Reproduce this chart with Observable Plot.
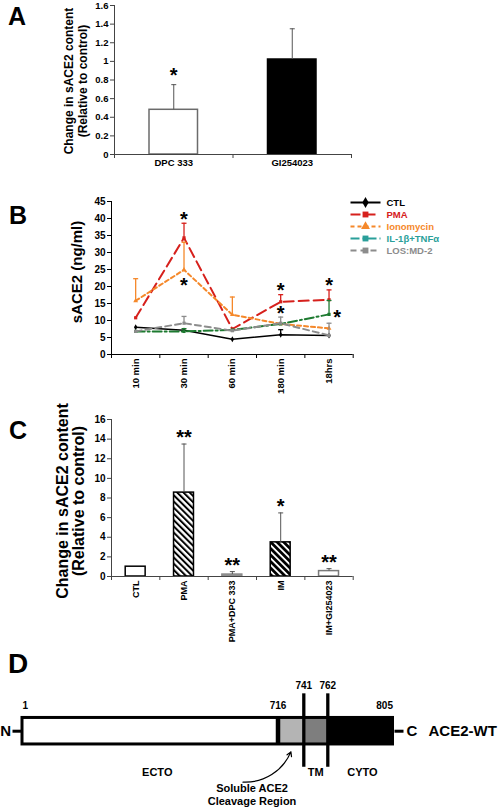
<!DOCTYPE html>
<html>
<head>
<meta charset="utf-8">
<script src="https://cdn.jsdelivr.net/npm/d3@7"></script>
<script src="https://cdn.jsdelivr.net/npm/@observablehq/plot@0.6"></script>
<style>
  html, body { margin: 0; padding: 0; background: #fff; }
  #figure { position: relative; width: 498px; height: 808px; overflow: hidden; font-family: "Liberation Sans", Arial, Helvetica, sans-serif; }
  .panel { position: absolute; }
  .letter { position: absolute; font-weight: bold; line-height: 1; color: #000; }
</style>
</head>
<body>
<div id="figure"></div>
<script>
// ================= DATA =================
// Panel A
const aCategories = ["DPC 333", "GI254023"];
const aValues = [0.48, 1.02];
const aErrors = [0.27, 0.33];
const aSignificance = ["*", ""];
const aTicks = [0, 0.2, 0.4, 0.6, 0.8, 1, 1.2, 1.4, 1.6];
const aYLabel = "Change in sACE2 content\n(Relative to control)";

// Panel B
const bTimes = ["10 min", "30 min", "60 min", "180 min", "18hrs"];
const bSeriesNames = ["CTL", "PMA", "Ionomycin", "IL-1β+TNFα", "LOS:MD-2"];
const ctlValues = [8.0, 7.1, 4.5, 5.8, 5.6];
const ctlErrors = [0, 0, 0, 1.5, 0];
const pmaValues = [10.8, 34.3, 7.5, 15.5, 16.1];
const pmaErrors = [0, 4.3, 0, 2.1, 2.9];
const ionomycinValues = [15.8, 24.9, 11.7, 9.0, 7.7];
const ionomycinErrors = [6.5, 8.1, 5.2, 0, 0];
const ilTnfValues = [6.8, 6.8, 7.2, 9.0, 11.8];
const ilTnfErrors = [0, 0.8, 0, 0, 4.1];
const losValues = [6.8, 9.2, 7.0, 9.2, 5.6];
const losErrors = [0, 2.0, 0, 1.8, 3.6];
const bTicks = [0, 5, 10, 15, 20, 25, 30, 35, 40, 45];
const bYLabel = "sACE2 (ng/ml)";
const bStars = [
  {series: "PMA", time: "30 min", place: "above"},
  {series: "Ionomycin", time: "30 min", place: "below"},
  {series: "PMA", time: "180 min", place: "above"},
  {series: "LOS:MD-2", time: "180 min", place: "above"},
  {series: "PMA", time: "18hrs", place: "above"},
  {series: "IL-1β+TNFα", time: "18hrs", place: "right"}
];

// Panel C
const cCategories = ["CTL", "PMA", "PMA+DPC 333", "IM", "IM+GI254023"];
const cValues = [1.0, 8.55, 0.2, 3.48, 0.55];
const cErrors = [0, 4.95, 0.3, 3.0, 0.25];
const cSignificance = ["", "**", "**", "*", "**"];
const cTicks = [0, 2, 4, 6, 8, 10, 12, 14, 16];
const cYLabel = "Change in sACE2 content\n(Relative to control)";

// Panel D (ACE2 domain schematic)
const dResidues = [1, 716, 741, 762, 805];
const dSegments = [
  {name: "ECTO", start: 1, end: 716},
  {name: "Cleavage", start: 716, end: 741},
  {name: "TM", start: 741, end: 762},
  {name: "CYTO", start: 762, end: 805}
];
const dCleavageLabel = "Soluble ACE2\nCleavage Region";
const dConstructName = "ACE2-WT";

// ================= STYLE =================
const FONT = '"Liberation Sans", Arial, Helvetica, sans-serif';
const baseStyle = (size) => ({fontFamily: FONT, fontWeight: "bold", fontSize: size + "px", color: "#000", background: "transparent", overflow: "visible"});
const axisGray = "#444";
const bLineColors = ["#000000", "#d6201c", "#f5882a", "#1d7a30", "#8c8c8c"];
const bLegendColors = ["#000000", "#d6201c", "#f5882a", "#2a9f9a", "#8c8c8c"];
const bDashes = ["none", "10,5", "4,3", "9,3,2,3", "6,4"];
const bWidths = [1.5, 2, 2, 2, 2];
const bSymbols = ["diamond", "square", "triangle", "square", "square"];
const aFills = ["white", "black"];
const aStrokes = ["#6b6b6b", "black"];
const cFills = ["white", "url(#hatchPMA)", "#9a9a9a", "url(#hatchIM)", "white"];
const cStrokes = ["black", "black", "#8a8a8a", "black", "#7a7a7a"];
const dFills = ["white", "#b4b4b4", "#7e7e7e", "black"];

const capSymbol = {draw(ctx, size) { const r = Math.sqrt(size / Math.PI); ctx.moveTo(-r, 0); ctx.lineTo(r, 0); }};
const stub = (a, b) => ({draw(ctx) { ctx.moveTo(a, 0); ctx.lineTo(b, 0); }});

function errorBars(rows, x, stroke, strokeWidth = 1, r = 3) {
  const withErr = rows.filter(d => d.err > 0);
  return [
    Plot.ruleX(withErr, {x, y1: d => d.value, y2: d => d.value + d.err, stroke, strokeWidth}),
    Plot.dot(withErr, {x, y: d => d.value + d.err, symbol: capSymbol, r, stroke, strokeWidth, fill: "none"})
  ];
}

const fig = document.getElementById("figure");
function place(node, left, top) {
  const wrap = document.createElement("div");
  wrap.className = "panel";
  wrap.style.left = left + "px";
  wrap.style.top = top + "px";
  wrap.appendChild(node);
  fig.appendChild(wrap);
}
function letter(txt, left, top, size) {
  const el = document.createElement("div");
  el.className = "letter";
  el.textContent = txt;
  el.style.left = left + "px";
  el.style.top = top + "px";
  el.style.fontSize = size + "px";
  fig.appendChild(el);
}

// ================= PANEL A =================
const aRows = aCategories.map((name, i) => ({name, i, value: aValues[i], err: aErrors[i], sig: aSignificance[i]}));
const plotA = Plot.plot({
  width: 360, height: 175, marginLeft: 114, marginRight: 9, marginTop: 5, marginBottom: 21,
  style: baseStyle(9.5),
  x: {domain: [0, aCategories.length]},
  y: {domain: [0, 1.6]},
  marks: [
    ...aRows.map(r => Plot.rectY([r], {x1: d => d.i, x2: d => d.i + 1, y1: 0, y2: d => d.value, insetLeft: 35, insetRight: 35, fill: aFills[r.i], stroke: aStrokes[r.i], strokeWidth: 1.5})),
    ...errorBars(aRows, d => d.i + 0.5, "#555", 1, 2.5),
    Plot.ruleX([0], {stroke: axisGray}),
    Plot.ruleY([0], {stroke: axisGray}),
    Plot.axisY({ticks: aTicks, tickFormat: d3.format("~g"), tickSize: 4, tickPadding: 2, label: null, stroke: axisGray}),
    Plot.axisX({ticks: d3.range(aCategories.length + 1), tickSize: 4, tickFormat: () => "", label: null, stroke: axisGray}),
    Plot.axisX({ticks: aCategories.map((_, i) => i + 0.5), tickSize: 0, tickPadding: 5, tickFormat: t => aCategories[Math.floor(t)], label: null}),
    Plot.text(aRows.filter(d => d.sig), {x: d => d.i + 0.5, y: d => d.value + d.err, text: d => d.sig, fontSize: 20, dy: -9}),
    Plot.text([aYLabel], {frameAnchor: "left", textAnchor: "middle", lineAnchor: "middle", dx: -39, dy: 1, rotate: -90, fontSize: 12, lineHeight: 1.12})
  ]
});
place(plotA, 0, 0);

// ================= PANEL B =================
const bSeries = [
  {name: bSeriesNames[0], values: ctlValues, errors: ctlErrors},
  {name: bSeriesNames[1], values: pmaValues, errors: pmaErrors},
  {name: bSeriesNames[2], values: ionomycinValues, errors: ionomycinErrors},
  {name: bSeriesNames[3], values: ilTnfValues, errors: ilTnfErrors},
  {name: bSeriesNames[4], values: losValues, errors: losErrors}
];
const bRowsBySeries = bSeries.map(s => s.values.map((v, t) => ({series: s.name, t, value: v, err: s.errors[t]})));
const bStarRows = bStars.map(s => {
  const k = bSeriesNames.indexOf(s.series);
  const t = bTimes.indexOf(s.time);
  const row = bRowsBySeries[k][t];
  return {...s, t, value: row.value, err: row.err};
});
const bMarks = [];
bSeries.forEach((s, k) => {
  const rows = bRowsBySeries[k];
  bMarks.push(Plot.line(rows, {x: d => d.t + 0.5, y: d => d.value, stroke: bLineColors[k], strokeWidth: bWidths[k], strokeDasharray: bDashes[k] === "none" ? null : bDashes[k]}));
  bMarks.push(...errorBars(rows, d => d.t + 0.5, bLineColors[k], 1.3, 2.5));
  bMarks.push(Plot.dot(rows, {x: d => d.t + 0.5, y: d => d.value, symbol: bSymbols[k], fill: bLineColors[k], r: 1.8}));
});
const plotB = Plot.plot({
  width: 360, height: 215, marginLeft: 111, marginRight: 7.3, marginTop: 11, marginBottom: 51,
  style: baseStyle(10),
  x: {domain: [0, bTimes.length]},
  y: {domain: [0, 45]},
  marks: [
    ...bMarks,
    Plot.ruleX([0], {stroke: "#000"}),
    Plot.ruleY([0], {stroke: "#000"}),
    Plot.axisY({ticks: bTicks, tickSize: 4, tickPadding: 2, label: null}),
    Plot.axisX({ticks: d3.range(bTimes.length + 1), tickSize: 4, tickFormat: () => "", label: null}),
    Plot.axisX({ticks: bTimes.map((_, i) => i + 0.5), tickSize: 0, tickPadding: 4, tickRotate: -90, tickFormat: t => bTimes[Math.floor(t)], label: null, fontSize: 9.5}),
    Plot.text(bStarRows.filter(d => d.place === "above"), {x: d => d.t + 0.5, y: d => d.value + d.err, text: () => "*", fontSize: 20, dy: -4}),
    Plot.text(bStarRows.filter(d => d.place === "below"), {x: d => d.t + 0.5, y: d => d.value, text: () => "*", fontSize: 20, dy: 16}),
    Plot.text(bStarRows.filter(d => d.place === "right"), {x: d => d.t + 0.5, y: d => d.value, text: () => "*", fontSize: 20, dx: 8, dy: 3}),
    Plot.text([bYLabel], {frameAnchor: "left", textAnchor: "middle", lineAnchor: "middle", dx: -34, dy: -6, rotate: -90, fontSize: 15})
  ]
});
place(plotB, 0, 190);

// Legend for B
const legendB = Plot.plot({
  width: 158, height: 70, marginLeft: 10, marginRight: 118, marginTop: 8, marginBottom: 14,
  style: baseStyle(9.5),
  x: {domain: [0, 1], axis: null},
  y: {type: "point", domain: bSeriesNames, padding: 0, axis: null},
  marks: bSeriesNames.flatMap((name, k) => [
    Plot.link([name], {x1: 0, x2: 1, y1: d => d, y2: d => d, stroke: bLegendColors[k], strokeWidth: 2, strokeDasharray: bDashes[k] === "none" ? null : bDashes[k]}),
    Plot.dot([name], {x: 0.5, y: d => d, symbol: bSymbols[k], fill: bLegendColors[k], r: 3.3}),
    Plot.text([name], {x: 1, y: d => d, dx: 6, textAnchor: "start", fill: bLegendColors[k], fontSize: 9.5})
  ])
});
place(legendB, 340, 194);

// ================= PANEL C =================
const cRows = cCategories.map((name, i) => ({name, i, value: cValues[i], err: cErrors[i], sig: cSignificance[i]}));
const plotC = Plot.plot({
  width: 360, height: 240, marginLeft: 111, marginRight: 7.3, marginTop: 9, marginBottom: 74,
  style: baseStyle(10),
  x: {domain: [0, cCategories.length]},
  y: {domain: [0, 16]},
  marks: [
    ...cRows.map(r => Plot.rectY([r], {x1: d => d.i, x2: d => d.i + 1, y1: 0, y2: d => d.value, insetLeft: 14.2, insetRight: 14.2, fill: cFills[r.i], stroke: cStrokes[r.i], strokeWidth: 1.5})),
    ...errorBars(cRows, d => d.i + 0.5, "#555", 1, 2.5),
    Plot.ruleX([0], {stroke: axisGray}),
    Plot.ruleY([0], {stroke: axisGray}),
    Plot.axisY({ticks: cTicks, tickSize: 4, tickPadding: 2, label: null, stroke: axisGray}),
    Plot.axisX({ticks: d3.range(cCategories.length + 1), tickSize: 4, tickFormat: () => "", label: null, stroke: axisGray}),
    Plot.axisX({ticks: cCategories.map((_, i) => i + 0.5), tickSize: 0, tickPadding: 4, tickRotate: -90, tickFormat: t => cCategories[Math.floor(t)], label: null, fontSize: 9}),
    Plot.text(cRows.filter(d => d.sig), {x: d => d.i + 0.5, y: d => d.value + d.err, text: d => d.sig, fontSize: 20, dy: -6}),
    Plot.text([cYLabel], {frameAnchor: "left", textAnchor: "middle", lineAnchor: "middle", dx: -41, dy: 3, rotate: -90, fontSize: 16, lineHeight: 1.04})
  ]
});
{
  const defs = d3.select(plotC).insert("defs", ":first-child");
  const mk = (id, period, stripe) => {
    const p = defs.append("pattern").attr("id", id).attr("patternUnits", "userSpaceOnUse")
      .attr("width", period).attr("height", 10).attr("patternTransform", "rotate(-45)");
    p.append("rect").attr("width", period).attr("height", 10).attr("fill", "white");
    p.append("rect").attr("width", stripe).attr("height", 10).attr("fill", "black");
  };
  mk("hatchPMA", 4.4, 2.0);
  mk("hatchIM", 4.6, 2.8);
}
place(plotC, 0, 410);

// ================= PANEL D =================
const segMid = s => (s.start + s.end) / 2;
const plotD = Plot.plot({
  width: 498, height: 148, marginLeft: 22, marginRight: 105.5, marginTop: 10, marginBottom: 2,
  style: baseStyle(11),
  x: {type: "linear", domain: dResidues, range: [22, 277.5, 303.3, 327.3, 392.5], axis: null},
  y: {type: "linear", domain: [-2.34, 2.79], axis: null},
  marks: [
    ...dSegments.map((s, k) => Plot.rect([s], {x1: d => d.start, x2: d => d.end, y1: 0, y2: 1, fill: dFills[k]})),
    Plot.rect([dSegments], {x1: d => d[0].start, x2: d => d[d.length - 1].end, y1: 0, y2: 1, fill: "none", stroke: "black", strokeWidth: 3}),
    Plot.ruleX([dResidues[1]], {y1: 0, y2: 1, stroke: "black", strokeWidth: 4.5}),
    Plot.ruleX([dResidues[2], dResidues[3]], {y1: -0.86, y2: 1.91, stroke: "black", strokeWidth: 3.3}),
    Plot.dot([dResidues[0]], {x: d => d, y: () => 0.5, symbol: stub(-10, -1.5), stroke: "black", strokeWidth: 3, fill: "none"}),
    Plot.dot([dResidues[4]], {x: d => d, y: () => 0.5, symbol: stub(1.5, 10.5), stroke: "black", strokeWidth: 3, fill: "none"}),
    Plot.text(["N"], {x: () => dResidues[0], y: () => 0.5, dx: -11.5, textAnchor: "end", fontSize: 15}),
    Plot.text(["C"], {x: () => dResidues[4], y: () => 0.5, dx: 13.5, textAnchor: "start", fontSize: 15}),
    Plot.text([dConstructName], {x: () => dResidues[4], y: () => 0.5, dx: 35.5, textAnchor: "start", fontSize: 15}),
    Plot.text([dResidues[0]], {x: d => d, y: () => 1.47, text: d => String(d), textAnchor: "start", fontSize: 10}),
    Plot.text([dResidues[1]], {x: d => d, y: () => 1.47, text: d => String(d), fontSize: 10}),
    Plot.text([dResidues[2], dResidues[3]], {x: d => d, y: () => 2.2, text: d => String(d), fontSize: 10}),
    Plot.text([dResidues[4]], {x: d => d, y: () => 1.47, text: d => String(d), textAnchor: "end", fontSize: 10}),
    Plot.text([dSegments[0]], {x: segMid, y: () => -1.05, text: d => d.name, fontSize: 11, dx: 7}),
    Plot.text([dSegments[2]], {x: segMid, y: () => -1.05, text: d => d.name, fontSize: 11}),
    Plot.text([dSegments[3]], {x: segMid, y: () => -1.05, text: d => d.name, fontSize: 11, dx: 2}),
    Plot.text([dSegments[1]], {x: d => d.start, y: () => -1.88, text: () => dCleavageLabel, fontSize: 11, lineHeight: 1.2, dx: -26}),
    Plot.arrow([dSegments[1]], {x1: () => 618, y1: () => -1.42, x2: segMid, y2: () => -0.28, bend: -35, stroke: "black", strokeWidth: 1.2, headLength: 6})
  ]
});
place(plotD, 0, 660);

// Panel letters
letter("A", 8, 3.5, 25);
letter("B", 9, 202.5, 25);
letter("C", 9, 418, 25);
letter("D", 8, 649.5, 28);
</script>
</body>
</html>
